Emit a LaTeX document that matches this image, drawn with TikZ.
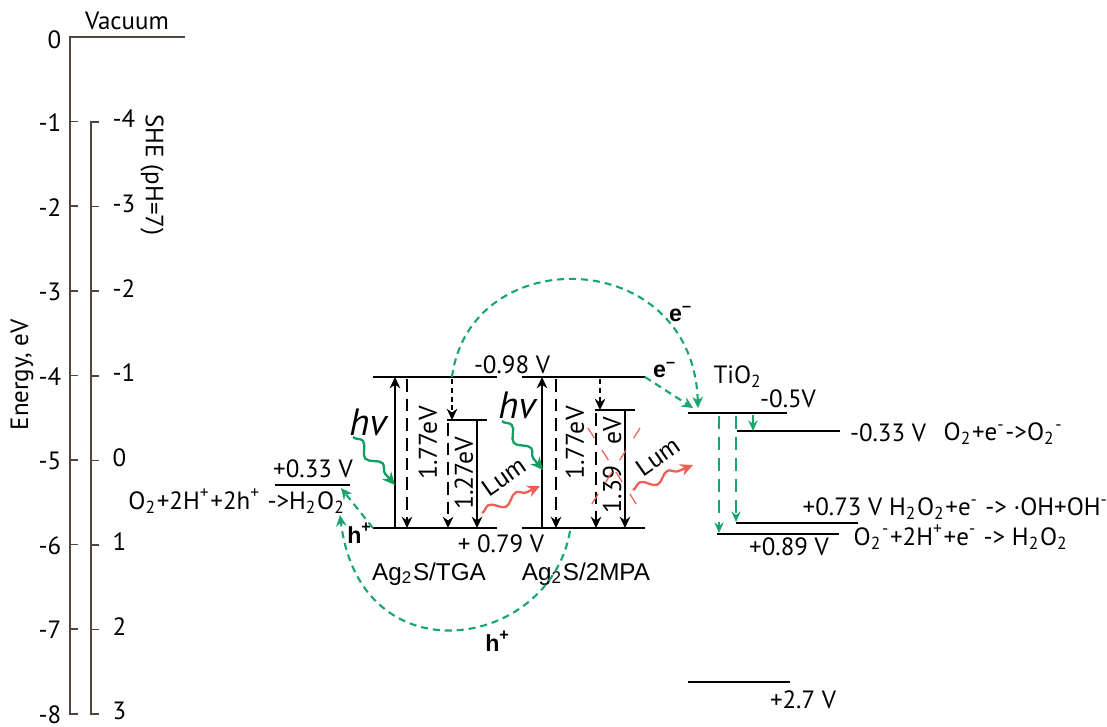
\documentclass[tikz,border=0pt]{standalone}
\usepackage{fontspec}
\setmainfont{PT Sans}
\newfontfamily\arialfont{Liberation Sans}
\usetikzlibrary{arrows.meta,decorations.pathmorphing}
\definecolor{axisGray}{RGB}{80,70,65}
\definecolor{transGreen}{RGB}{25,165,110}
\definecolor{hvGreen}{RGB}{15,160,95}
\definecolor{lumRed}{RGB}{240,95,85}

\begin{document}
\begin{tikzpicture}[x=0.01cm,y=-0.01cm,
  every node/.style={font=\fontsize{7.1}{8}\selectfont,inner sep=0pt},
  lbl/.style={font=\arialfont\fontsize{6.9}{8}\selectfont},
  gap/.style={rotate=90,font=\fontsize{7.3}{8}\selectfont},
  carrier/.style={font=\arialfont\bfseries\fontsize{6.6}{7}\selectfont},
  axis/.style={draw=axisGray,line width=0.45pt},
  band/.style={line width=0.8pt},
  level/.style={line width=0.35pt},
  tip/.style={-{Stealth[length=3.2pt,width=3pt]}},
  up/.style={tip,line width=0.55pt},
  dashdown/.style={tip,line width=0.55pt,dash pattern=on 3.6pt off 2pt},
  dotdown/.style={tip,line width=0.55pt,dash pattern=on 1.4pt off 1.1pt},
  transfer/.style={-{Stealth[length=3.2pt,width=3pt]},draw=transGreen,line width=0.6pt,dash pattern=on 2pt off 1.4pt},
  gdown/.style={-{Stealth[length=3pt,width=2.6pt]},draw=transGreen,line width=0.55pt,dash pattern=on 3.6pt off 2.4pt},
  photon/.style={-{Stealth[length=3.6pt,width=3.4pt]},draw=hvGreen,line width=0.65pt,decorate,
    decoration={snake,amplitude=0.05cm,segment length=0.3cm,post length=0.1cm}},
  lum/.style={-{Stealth[length=3.6pt,width=3.4pt]},draw=lumRed,line width=0.65pt,decorate,
    decoration={snake,amplitude=0.045cm,segment length=0.3cm,post length=0.1cm}},
  hvtext/.style={font=\itshape\fontsize{10.8}{11}\selectfont}
]
  \useasboundingbox (0,0) rectangle (1107,726);

  % vacuum scale
  \draw[axis] (185,37) -- (70,37) -- (70,714) -- (78,714);
  \node[above] (vac) at (127,30) {Vacuum};
  \node[left] at (62,40) {0};
  \foreach \v in {1,...,7}
    \draw[axis] (70,{37+84.6*\v}) -- ++(8,0);
  \foreach \v in {1,...,8}
    \node[left] at (62,{38+84.6*\v}) {-\v};
  \node[rotate=90] (energy) at (22,375) {Energy, eV};

  % SHE scale
  \draw[axis] (99,122) -- (91,122) -- (91,714) -- (99,714);
  \foreach \lab [count=\k from 0] in {-4,-3,-2,-1,0,1,2,3} {
    \draw[axis] (91,{122+84.6*\k}) -- ++(8,0);
    \node[right] at (112,{119+84.6*\k}) {\lab};
  }
  \node[rotate=-90] (she) at (152,175) {SHE (pH=7)};

  % Ag2S/TGA
  \draw[band] (373,377) coordinate (tgaCBl) -- (497,377) coordinate (tgaCBr);
  \draw[band] (373,528) coordinate (tgaVBl) -- (497,528) coordinate (tgaVBr);
  \draw[band] (447,420) -- (487,420);
  \draw[up] (395,528) -- (395,377);
  \draw[dashdown] (407,379) -- (407,528);
  \draw[dotdown] (452,379) -- (452,420);
  \draw[dashdown] (448,423) -- (448,528);
  \draw[up] (477,420) -- (477,528);
  \node[gap] (gapA) at (428,443) {1.77eV};
  \node[gap] (gapB) at (464,473) {1.27eV};
  \node[hvtext] (hvA) at (368,422) {hv};
  \draw[photon] (353,437) -- (395,485);
  \draw[lum] (482,513) -- (540,486);
  \node[lbl,rotate=35] (lumA) at (504,477) {Lum};
  \node[lbl] (tga) at (429,574) {Ag\textsubscript{2}S/TGA};

  % Ag2S/2MPA
  \draw[band] (522,377) coordinate (mpaCBl) -- (645,377) coordinate (mpaCBr);
  \draw[band] (522,528) coordinate (mpaVBl) -- (645,528) coordinate (mpaVBr);
  \draw[band] (595,410) -- (635,410);
  \draw[up] (542,528) -- (542,377);
  \draw[dashdown] (556,379) -- (556,528);
  \draw[dotdown] (600,379) -- (600,410);
  \draw[dashdown] (596,413) -- (596,528);
  \draw[up] (625,410) -- (625,528);
  \node[gap] (gapC) at (575,443) {1.77eV};
  \node[gap] (gapD) at (612,465) {1.39\hspace{4pt} eV};
  \draw[lumRed,line width=0.35pt,dash pattern=on 3.4pt off 4pt] (588,428) -- (640,510);
  \draw[lumRed,line width=0.35pt,dash pattern=on 3.4pt off 4pt] (640,428) -- (588,510);
  \node[hvtext] (hvB) at (517,405) {hv};
  \draw[photon] (502,421) -- (543,470);
  \draw[lum] (633,490) -- (693,465);
  \node[lbl,rotate=35] (lumB) at (658,457) {Lum};
  \node[lbl] (mpa) at (586,574) {Ag\textsubscript{2}S/2MPA};

  \node (cbV) at (512,365) {-0.98 V};
  \node (vbV) at (501,544) {+ 0.79 V};

  % water oxidation level
  \draw[level] (275,485) coordinate (ox) -- (350,485);
  \coordinate (oxA) at (341,488);
  \coordinate (oxB) at (340,515);
  \node (oxV) at (313,469) {+0.33 V};
  \node (oxR) at (237,501) {O\textsubscript{2}+2H\textsuperscript{+}+2h\textsuperscript{+} ->H\textsubscript{2}O\textsubscript{2}};
  \node[carrier] (hA) at (360,533) {h\textsuperscript{+}};
  \draw[transfer] (tgaVBl) -- (oxA);
  \draw[transfer] (570,531) .. controls (550,650) and (360,680) .. (oxB);
  \node[carrier] (hB) at (498,641) {h\textsuperscript{+}};

  % TiO2
  \draw[band] (688,413) coordinate (tio) -- (787,413);
  \coordinate (tioA) at (698,408);
  \coordinate (tioB) at (693,408);
  \node (tioL) at (738,377) {TiO\textsubscript{2}};
  \node (tioV) at (788,399) {-0.5V};
  \draw[band] (688,682) -- (790,682);
  \node (tioVB) at (803,700) {+2.7 V};
  \draw[transfer] (452,377) .. controls (470,240) and (693,245) .. (tioA);
  \node[carrier] (eA) at (681,314) {e\textsuperscript{–}};
  \draw[transfer] (mpaCBr) -- (tioB);
  \node[carrier] (eB) at (665,370) {e\textsuperscript{–}};

  % reduction levels
  \draw[level] (737,431) -- (840,431);
  \node (redA) at (888,433) {-0.33 V};
  \node[right] (redAr) at (943,434) {O\textsubscript{2}+e\textsuperscript{-}->O\textsubscript{2}\textsuperscript{-}};
  \draw[level] (736,523) -- (858,523);
  \node[right] (redB) at (802,509) {+0.73 V H\textsubscript{2}O\textsubscript{2}+e\textsuperscript{-} -> ·OH+OH\textsuperscript{-}};
  \draw[level] (717,534) -- (839,534);
  \node (redC) at (789,547) {+0.89 V};
  \node[right] (redCr) at (853,537) {O\textsubscript{2}\textsuperscript{-}+2H\textsuperscript{+}+e\textsuperscript{-} -> H\textsubscript{2}O\textsubscript{2}};
  \draw[-{Stealth[length=3pt,width=2.6pt]},draw=transGreen,line width=0.55pt] (753,415) -- (753,431);
  \draw[gdown] (719,416) -- (719,533);
  \draw[gdown] (736,416) -- (736,522);
\end{tikzpicture}
\end{document}
